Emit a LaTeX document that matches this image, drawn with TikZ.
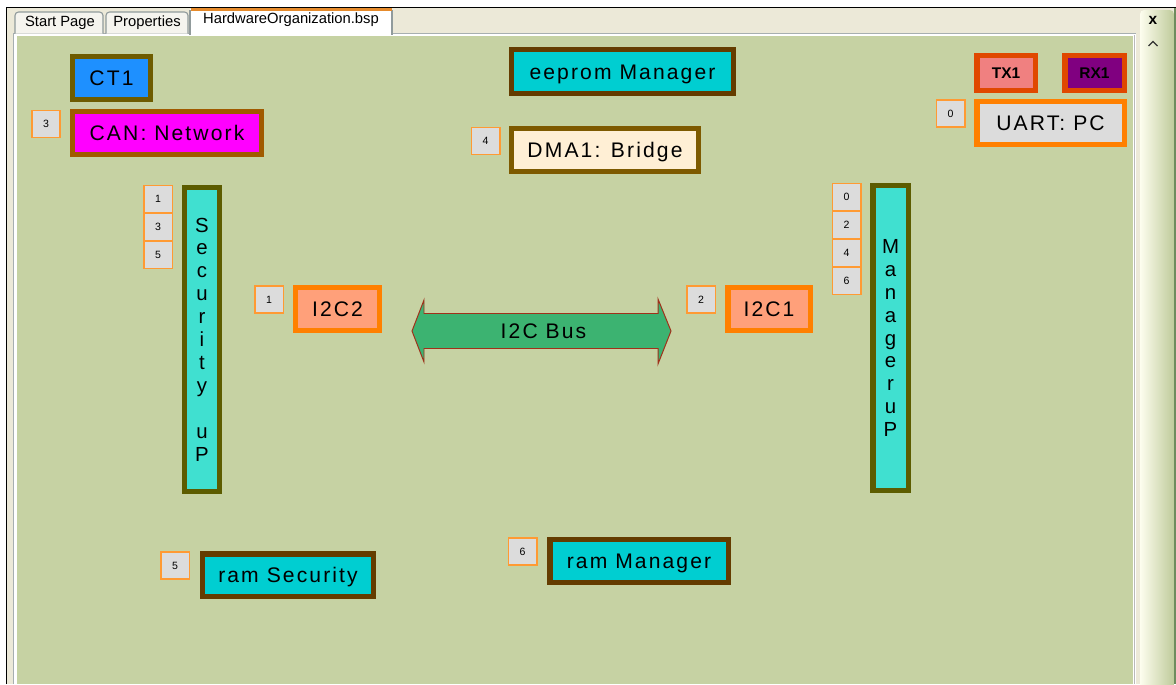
\documentclass[tikz,border=0pt]{standalone}
\usepackage{fontspec}
\setmainfont{Liberation Sans}
\newfontfamily\spaced[LetterSpace=10]{Liberation Sans}

% window chrome
\definecolor{canvas}{HTML}{C6D2A3}
\definecolor{chrome}{HTML}{ECE9D8}
\definecolor{tabedge}{HTML}{919B9C}
\definecolor{tabfill}{HTML}{F5F4EE}
\definecolor{tabline}{HTML}{E68B2C}
\definecolor{sidel}{HTML}{FDFDEE}
\definecolor{sider}{HTML}{BFCB9B}
\definecolor{sideedge}{HTML}{6F8C5E}
% diagram
\definecolor{numfill}{HTML}{DCDCDC}
\definecolor{numedge}{HTML}{FF9A33}
\definecolor{ctedge}{HTML}{6E5C00}
\definecolor{ctfill}{HTML}{1E90FF}
\definecolor{canedge}{HTML}{A05A00}
\definecolor{canfill}{HTML}{FF00FF}
\definecolor{memedge}{HTML}{643C00}
\definecolor{memfill}{HTML}{00CED1}
\definecolor{dmaedge}{HTML}{7E5A00}
\definecolor{dmafill}{HTML}{FFEFD5}
\definecolor{cpuedge}{HTML}{5C5C00}
\definecolor{cpufill}{HTML}{40E0D0}
\definecolor{uartedge}{HTML}{FF8000}
\definecolor{i2cfill}{HTML}{FFA07A}
\definecolor{txedge}{HTML}{E04800}
\definecolor{txfill}{HTML}{F08080}
\definecolor{rxfill}{HTML}{800080}
\definecolor{busfill}{HTML}{3CB371}
\definecolor{busedge}{HTML}{A0301A}

\begin{document}
\begin{tikzpicture}[x=0.025cm, y=-0.025cm,
  blk/.style 2 args={draw=#1, fill=#2, line width=3.9pt, inner sep=0pt,
    font=\spaced\fontsize{15}{18}\selectfont, text height=10.7pt, text depth=0pt},
  sz/.style 2 args={minimum width={(#1-5.5)*0.025cm}, minimum height={(#2-5.5)*0.025cm}},
  vert/.style={align=center, font=\fontsize{14.5}{16.3}\selectfont, text height=, text depth=},
  small/.style={font=\bfseries\fontsize{11}{13}\selectfont, text height=7.9pt},
  num/.style={draw=numedge, fill=numfill, line width=1.07pt, inner sep=0pt,
    minimum width={28.5*0.025cm}, minimum height={27*0.025cm},
    font=\fontsize{7.5}{9}\selectfont, text height=5.4pt, text depth=0pt},
  tabtext/.style={font=\fontsize{10.5}{12}\selectfont, inner sep=0pt},
]
\useasboundingbox (0,0) rectangle (1176,684);

% ---- window frame ----
\fill[white] (0,0) rectangle (1176,684);
\fill[chrome] (6,7) rectangle (1176,684);
\draw[black, line width=0.9pt] (6.5,684) -- (6.5,7.5) -- (1176,7.5);
\fill[white] (13,33) rectangle (1136,684);
\draw[tabedge!80, line width=0.9pt] (13.5,684) -- (13.5,33.5) -- (1136,33.5);
\fill[canvas] (16.5,35.5) rectangle (1133,684);
\draw[gray!55, line width=1.3pt] (1134.5,35) -- (1134.5,684);

% side panel with close and scroll buttons
\shade[left color=sidel, right color=sider, rounded corners=3] (1140,10) rectangle (1174,700);
\fill[sideedge] (1174,8) rectangle (1176,684);
\node[font=\bfseries\fontsize{11}{11}\selectfont, inner sep=0pt] (close) at (1153,20.5) {x};
\draw[black!80, line width=0.8pt] (1148.5,46) -- (1153,41.5) -- (1157.5,46);

% tabs
\draw[fill=tabfill, draw=tabedge, line width=0.8pt, rounded corners=2.5] (15,33.5) -- (15,12) -- (103,12) -- (103,33.5);
\draw[fill=tabfill, draw=tabedge, line width=0.8pt, rounded corners=2.5] (106,33.5) -- (106,12) -- (188,12) -- (188,33.5);
\fill[white] (190,9) rectangle (392,35);
\draw[tabedge, line width=0.8pt] (190,35) -- (190,10) (392,10) -- (392,35);
\draw[tabline, line width=1.6pt] (190.5,9.6) -- (391.5,9.6);
\node[tabtext] (tabstart) at (60,22.5) {Start Page};
\node[tabtext] (tabprops) at (147,22.5) {Properties};
\node[tabtext] (tabhw) at (291,19.5) {HardwareOrganization.bsp};

% ---- hardware blocks ----
\node[blk={ctedge}{ctfill}, sz={83}{48}] (ct1) at (111.5,78) {CT1};
\node[blk={canedge}{canfill}, sz={194}{48}] (can) at (167,133) {CAN: Network};
\node[blk={memedge}{memfill}, sz={227}{49}] (eeprom) at (622.5,71.5) {eeprom Manager};
\node[blk={dmaedge}{dmafill}, sz={192}{48}] (dma) at (605,150) {DMA1: Bridge};
\node[blk={txedge}{txfill}, sz={64}{40}, small] (tx1) at (1006,73) {TX1};
\node[blk={txedge}{rxfill}, sz={65}{40}, small] (rx1) at (1094.5,73) {RX1};
\node[blk={uartedge}{numfill}, sz={153}{48}] (uart) at (1050.5,123) {UART: PC};
\node[blk={cpuedge}{cpufill}, sz={40}{309}, vert] (sec) at (202,339.5)
  {S\\e\\c\\u\\r\\i\\t\\y\\[16.3pt]u\\P};
\node[blk={cpuedge}{cpufill}, sz={41}{310}, vert] (mgr) at (890.5,338)
  {M\\a\\n\\a\\g\\e\\r\\u\\P};
\node[blk={uartedge}{i2cfill}, sz={89}{48}] (i2c2) at (337.5,309) {I2C2};
\node[blk={uartedge}{i2cfill}, sz={88}{48}] (i2c1) at (769,309) {I2C1};
\node[blk={memedge}{memfill}, sz={176}{48}] (ramsec) at (288,575) {ram Security};
\node[blk={memedge}{memfill}, sz={184}{48}] (rammgr) at (639,561) {ram Manager};

% ---- I2C bus ----
\draw[fill=busfill, draw=busedge, line width=0.7pt]
  (412,331) -- (424,300) -- (424,313.5) -- (658,313.5) -- (658,299) -- (671,331)
  -- (658,364) -- (658,348.5) -- (424,348.5) -- (424,362) -- cycle;
\node[font=\spaced\fontsize{15}{18}\selectfont, text height=10.7pt, text depth=0pt, inner sep=0pt] (bus) at (543.5,331) {I2C Bus};

% ---- index tags ----
\node[num] (tcan) at (46,124) {3};
\node[num] (tsec1) at (158,199) {1};
\node[num] (tsec3) at (158,227) {3};
\node[num] (tsec5) at (158,255) {5};
\node[num] (ti2c2) at (269,299.5) {1};
\node[num] (tdma) at (485.5,141) {4};
\node[num] (tuart) at (950.5,113.5) {0};
\node[num] (ti2c1) at (701,299.5) {2};
\node[num] (tmgr0) at (846.5,197) {0};
\node[num] (tmgr2) at (846.5,225) {2};
\node[num] (tmgr4) at (846.5,253) {4};
\node[num] (tmgr6) at (846.5,281) {6};
\node[num] (tramsec) at (175,565.5) {5};
\node[num] (trammgr) at (522.5,551.5) {6};
\end{tikzpicture}
\end{document}
